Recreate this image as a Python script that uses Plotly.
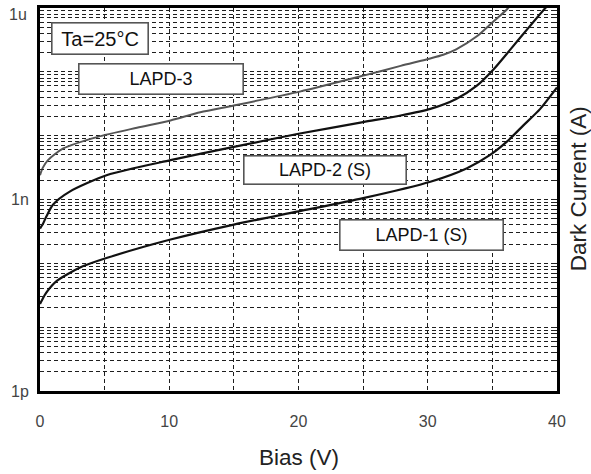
import plotly.graph_objects as go

# ---- data (bias in V, dark current in A) ----
bias_lapd3 = [0, 0.2, 0.6, 1.8, 4.4, 7.5, 10.1, 12.4, 15.0, 20.1, 25.1, 27.9, 30.2, 31.2, 32.2, 33.8, 35.1, 36.1, 36.3]
current_lapd3 = [2.4e-9, 3.1e-9, 4.1e-9, 6.3e-9, 9.5e-9, 1.33e-8, 1.73e-8, 2.33e-8, 2.97e-8, 4.9e-8, 8.8e-8,
                 1.24e-7, 1.62e-7, 1.85e-7, 2.25e-7, 3.6e-7, 6.2e-7, 9.4e-7, 1.05e-6]

bias_lapd2 = [0, 0.2, 0.5, 1.0, 2.3, 5.2, 10.1, 15.0, 20.0, 25.0, 27.9, 30.2, 32.2, 33.8, 35.1, 36.4, 37.9, 39.1, 39.4]
current_lapd2 = [3.5e-10, 4.05e-10, 5.45e-10, 8.3e-10, 1.33e-9, 2.42e-9, 4.14e-9, 6.67e-9, 1.07e-8, 1.63e-8,
                 2.07e-8, 2.63e-8, 3.76e-8, 6.07e-8, 1.1e-7, 2.25e-7, 5.2e-7, 1.0e-6, 1.15e-6]

bias_lapd1 = [0, 0.13, 0.5, 1.3, 3.1, 5.2, 10.1, 15.0, 20.0, 25.0, 30.2, 33.0, 34.8, 36.1, 37.4, 38.7, 40.0]
current_lapd1 = [2.3e-11, 2.6e-11, 3.5e-11, 5.3e-11, 8.6e-11, 1.22e-10, 2.36e-10, 4.05e-10, 6.5e-10, 1.05e-9,
                 1.9e-9, 3.07e-9, 4.95e-9, 7.98e-9, 1.45e-8, 2.63e-8, 5.7e-8]

x_tick_vals = [0, 5, 10, 15, 20, 25, 30, 35, 40]
x_tick_text = ["0", "", "10", "", "20", "", "30", "", "40"]
decade_labels = {-12: "1p", -9: "1n"}
top_label = "1u"
decades = [-12, -11, -10, -9, -8, -7]
mantissas = [1, 2, 3, 4, 5, 6, 7, 8, 9]

y_tick_vals = []
y_tick_text = []
for e in decades:
    for m in mantissas:
        y_tick_vals.append(m * 10.0 ** e)
        y_tick_text.append(decade_labels.get(e, "") if m == 1 else "")
y_tick_vals.append(1e-6)
y_tick_text.append("")

FONT = "Liberation Sans, Arial, sans-serif"

fig = go.Figure()
fig.add_trace(go.Scatter(x=bias_lapd3, y=current_lapd3, mode="lines",
                         line=dict(color="#555555", width=2, shape="spline", smoothing=0.7),
                         name="LAPD-3"))
fig.add_trace(go.Scatter(x=bias_lapd2, y=current_lapd2, mode="lines",
                         line=dict(color="#111111", width=2.2, shape="spline", smoothing=0.7),
                         name="LAPD-2 (S)"))
fig.add_trace(go.Scatter(x=bias_lapd1, y=current_lapd1, mode="lines",
                         line=dict(color="#111111", width=2.2, shape="spline", smoothing=0.7),
                         name="LAPD-1 (S)"))

grid_col = "#1e1e1e"
fig.update_layout(
    width=591, height=474,
    margin=dict(l=40, r=34, t=5, b=83),
    paper_bgcolor="white", plot_bgcolor="white",
    showlegend=False,
    font=dict(family=FONT, color="#333333"),
    xaxis=dict(range=[0, 40], tickmode="array", tickvals=x_tick_vals, ticktext=x_tick_text,
               showgrid=True, gridcolor=grid_col, gridwidth=1, griddash="4px,3px",
               showline=True, linecolor="black", linewidth=3, mirror=True,
               ticks="", zeroline=False, tickfont=dict(size=16, color="#444444"),
               ticklabelstandoff=14),
    yaxis=dict(type="log", range=[-12, -6], tickmode="array", tickvals=y_tick_vals,
               ticktext=y_tick_text,
               showgrid=True, gridcolor=grid_col, gridwidth=1, griddash="4px,3px",
               showline=True, linecolor="black", linewidth=3, mirror="allticks",
               ticks="inside", ticklen=4, tickcolor="#222222", tickwidth=1,
               zeroline=False, tickfont=dict(size=16, color="#444444"),
               ticklabelstandoff=5),
)

# top decade label (would overflow the page if drawn centred on the edge)
fig.add_annotation(text=top_label, xref="paper", yref="paper", x=0, y=1,
                   xanchor="right", yanchor="top", xshift=-11, yshift=4, showarrow=False,
                   font=dict(family=FONT, size=16, color="#444444"))

def box(text, cx, cy, w, h, size=18):
    fig.add_annotation(text=text, xref="paper", yref="paper", x=cx, y=cy,
                       xanchor="center", yanchor="middle", showarrow=False,
                       width=w, height=h, borderpad=0, bgcolor="white",
                       bordercolor="#555555", borderwidth=1.6,
                       font=dict(family=FONT, size=size, color="#111111"))

box("Ta=25°C", 0.1160, 0.9202, 95, 30, size=20)
box("LAPD-3", 0.2331, 0.8140, 163, 29)
box("LAPD-2 (S)", 0.5505, 0.5782, 161, 27)
box("LAPD-1 (S)", 0.7383, 0.4062, 162, 29)

fig.add_annotation(text="Bias (V)", xref="paper", yref="paper", x=0.5, y=0,
                   xanchor="center", yanchor="middle", yshift=-66, showarrow=False,
                   font=dict(family=FONT, size=22.5, color="#222222"))
fig.add_annotation(text="Dark Current (A)", xref="paper", yref="paper", x=1, y=0.527,
                   xanchor="center", yanchor="middle", xshift=21, textangle=-90,
                   showarrow=False, font=dict(family=FONT, size=22.5, color="#222222"))

fig.write_html("out.html")
